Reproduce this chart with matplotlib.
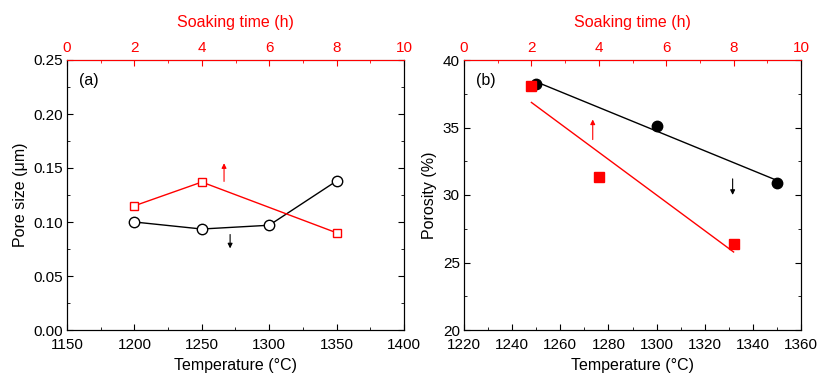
import numpy as np
import matplotlib
matplotlib.use("Agg")
import matplotlib.pyplot as plt
from matplotlib.ticker import MultipleLocator

plt.rcParams['font.family'] = ['Liberation Sans', 'DejaVu Sans']
plt.rcParams['font.size'] = 11

# panel (a): pore size
temp_a = [1200, 1250, 1300, 1350]
pore_temp = [0.100, 0.0935, 0.097, 0.138]
time_a = [2, 4, 8]
pore_time = [0.115, 0.137, 0.090]

# panel (b): porosity
temp_b = [1250, 1300, 1350]
poro_temp = [38.2, 35.1, 30.9]
time_b = [2, 4, 8]
poro_time = [38.1, 31.3, 26.4]

RED = '#ff0000'

fig = plt.figure(figsize=(8.18, 3.74), dpi=100)
ax1 = fig.add_axes([67/818, 44/374, 337/818, 270/374])
ax2 = fig.add_axes([464/818, 44/374, 337/818, 270/374])


def style(ax, top, xmaj, xmin, ymaj, ymin):
    ax.xaxis.set_major_locator(MultipleLocator(xmaj))
    ax.xaxis.set_minor_locator(MultipleLocator(xmin))
    ax.yaxis.set_major_locator(MultipleLocator(ymaj))
    ax.yaxis.set_minor_locator(MultipleLocator(ymin))
    ax.tick_params(which='both', direction='in', right=True, top=False, labelsize=11)
    ax.tick_params(which='major', length=4)
    ax.tick_params(which='minor', length=2)
    ax.tick_params(axis='x', pad=6)
    ax.tick_params(axis='y', pad=3)
    top.xaxis.set_major_locator(MultipleLocator(2))
    top.xaxis.set_minor_locator(MultipleLocator(1))
    top.tick_params(which='both', direction='in', colors=RED, labelsize=11)
    top.tick_params(which='major', length=4)
    top.tick_params(which='minor', length=2)
    top.spines['top'].set_color(RED)
    top.set_xlabel('Soaking time (h)', color=RED, fontsize=11.5, labelpad=10)
    ax.set_xlabel('Temperature (°C)', fontsize=11.5, labelpad=4)


# ---- (a)
ax1.plot(temp_a, pore_temp, '-o', color='k', mfc='white', mec='k', ms=7.5, lw=1)
ax1.set_xlim(1150, 1400)
ax1.set_ylim(0, 0.25)
ax1.set_ylabel('Pore size (μm)', fontsize=11.5)
ax1.yaxis.set_major_formatter(matplotlib.ticker.FormatStrFormatter('%.2f'))
ax1.text(0.035, 0.925, '(a)', transform=ax1.transAxes, fontsize=11.5, va='center')
top1 = ax1.twiny()
top1.plot(time_a, pore_time, '-s', color=RED, mfc='white', mec=RED, ms=6, lw=1)
top1.set_xlim(0, 10)
style(ax1, top1, 50, 25, 0.05, 0.025)
ax1.annotate('', xy=(1271, 0.073), xytext=(1271, 0.091),
             arrowprops=dict(arrowstyle='-|>', color='k', lw=0.8, mutation_scale=7))
top1.annotate('', xy=(4.66, 0.157), xytext=(4.66, 0.135),
              arrowprops=dict(arrowstyle='-|>', color=RED, lw=0.8, mutation_scale=7))

# ---- (b)
ax2.plot(temp_b, poro_temp, 'o', color='k', ms=7.5)
k = np.polyfit(temp_b, poro_temp, 1)
ax2.plot(temp_b[::len(temp_b) - 1], np.polyval(k, temp_b[::len(temp_b) - 1]), '-', color='k', lw=1)
ax2.set_xlim(1220, 1360)
ax2.set_ylim(20, 40)
ax2.set_ylabel('Porosity (%)', fontsize=11.5)
ax2.text(0.035, 0.925, '(b)', transform=ax2.transAxes, fontsize=11.5, va='center')
top2 = ax2.twiny()
top2.plot(time_b, poro_time, 's', color=RED, ms=6.5)
kr = np.polyfit(time_b, poro_time, 1)
top2.plot(time_b[::len(time_b) - 1], np.polyval(kr, time_b[::len(time_b) - 1]), '-', color=RED, lw=1)
top2.set_xlim(0, 10)
style(ax2, top2, 20, 10, 5, 2.5)
ax2.annotate('', xy=(1331.6, 29.8), xytext=(1331.6, 31.4),
             arrowprops=dict(arrowstyle='-|>', color='k', lw=0.8, mutation_scale=7))
top2.annotate('', xy=(3.82, 35.8), xytext=(3.82, 33.9),
              arrowprops=dict(arrowstyle='-|>', color=RED, lw=0.8, mutation_scale=7))

fig.savefig('out.png', dpi=100)
